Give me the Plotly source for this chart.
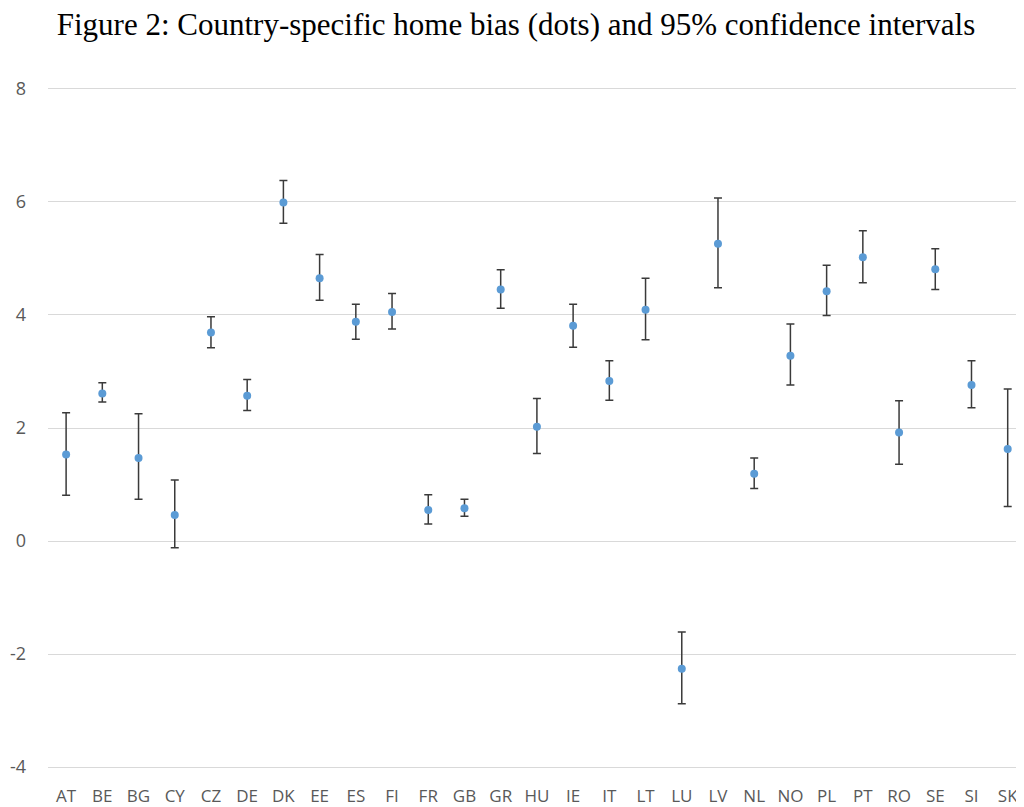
import plotly.graph_objects as go

countries = ["AT", "BE", "BG", "CY", "CZ", "DE", "DK", "EE", "ES", "FI", "FR", "GB", "GR", "HU",
             "IE", "IT", "LT", "LU", "LV", "NL", "NO", "PL", "PT", "RO", "SE", "SI", "SK"]
home_bias = [1.53, 2.61, 1.47, 0.46, 3.69, 2.57, 5.99, 4.65, 3.88, 4.05, 0.55, 0.58, 4.45, 2.02,
             3.81, 2.83, 4.09, -2.26, 5.26, 1.19, 3.28, 4.42, 5.02, 1.92, 4.81, 2.76, 1.63]
ci_upper = [2.27, 2.80, 2.25, 1.08, 3.97, 2.86, 6.38, 5.07, 4.19, 4.38, 0.82, 0.74, 4.80, 2.52,
            4.19, 3.19, 4.65, -1.61, 6.07, 1.47, 3.84, 4.88, 5.49, 2.48, 5.17, 3.19, 2.69]
ci_lower = [0.81, 2.46, 0.74, -0.12, 3.42, 2.31, 5.62, 4.26, 3.57, 3.75, 0.30, 0.44, 4.12, 1.55,
            3.43, 2.49, 3.56, -2.88, 4.48, 0.93, 2.76, 3.99, 4.57, 1.36, 4.45, 2.36, 0.61]
y_ticks = [-4, -2, 0, 2, 4, 6, 8]
y_tick_labels = ["-4", "-2", "0", "2", "4", "6", "8"]
title_text = "Figure 2: Country-specific home bias (dots) and 95% confidence intervals"

err_plus = [u - v for u, v in zip(ci_upper, home_bias)]
err_minus = [v - l for v, l in zip(home_bias, ci_lower)]

fig = go.Figure()
fig.add_trace(go.Scatter(
    x=countries, y=home_bias, mode="markers",
    marker=dict(color="#5B9BD5", size=8),
    error_y=dict(type="data", symmetric=False, array=err_plus, arrayminus=err_minus,
                 color="#3a3a3a", thickness=1.5, width=4),
    showlegend=False,
))

fig.update_layout(
    width=1016, height=799,
    paper_bgcolor="white", plot_bgcolor="white",
    margin=dict(l=40, r=0, t=78, b=37),
    title=dict(text=title_text, x=0.5, xanchor="center", y=0.98, yanchor="middle",
               font=dict(family="Liberation Serif", size=31, color="black")),
    xaxis=dict(type="category", range=[-0.5, 26.45], showgrid=False, zeroline=False,
               showline=False, ticks="", ticklabelstandoff=14,
               tickfont=dict(family="Open Sans", size=17, color="#595959")),
    yaxis=dict(range=[-4.05, 8.05], tickvals=y_ticks, ticktext=y_tick_labels,
               showgrid=True, gridcolor="#d9d9d9",
               gridwidth=1, zeroline=False, showline=False, ticks="",
               ticklabelstandoff=21,
               tickfont=dict(family="Open Sans", size=18, color="#595959")),
)

fig.write_html("out.html")
